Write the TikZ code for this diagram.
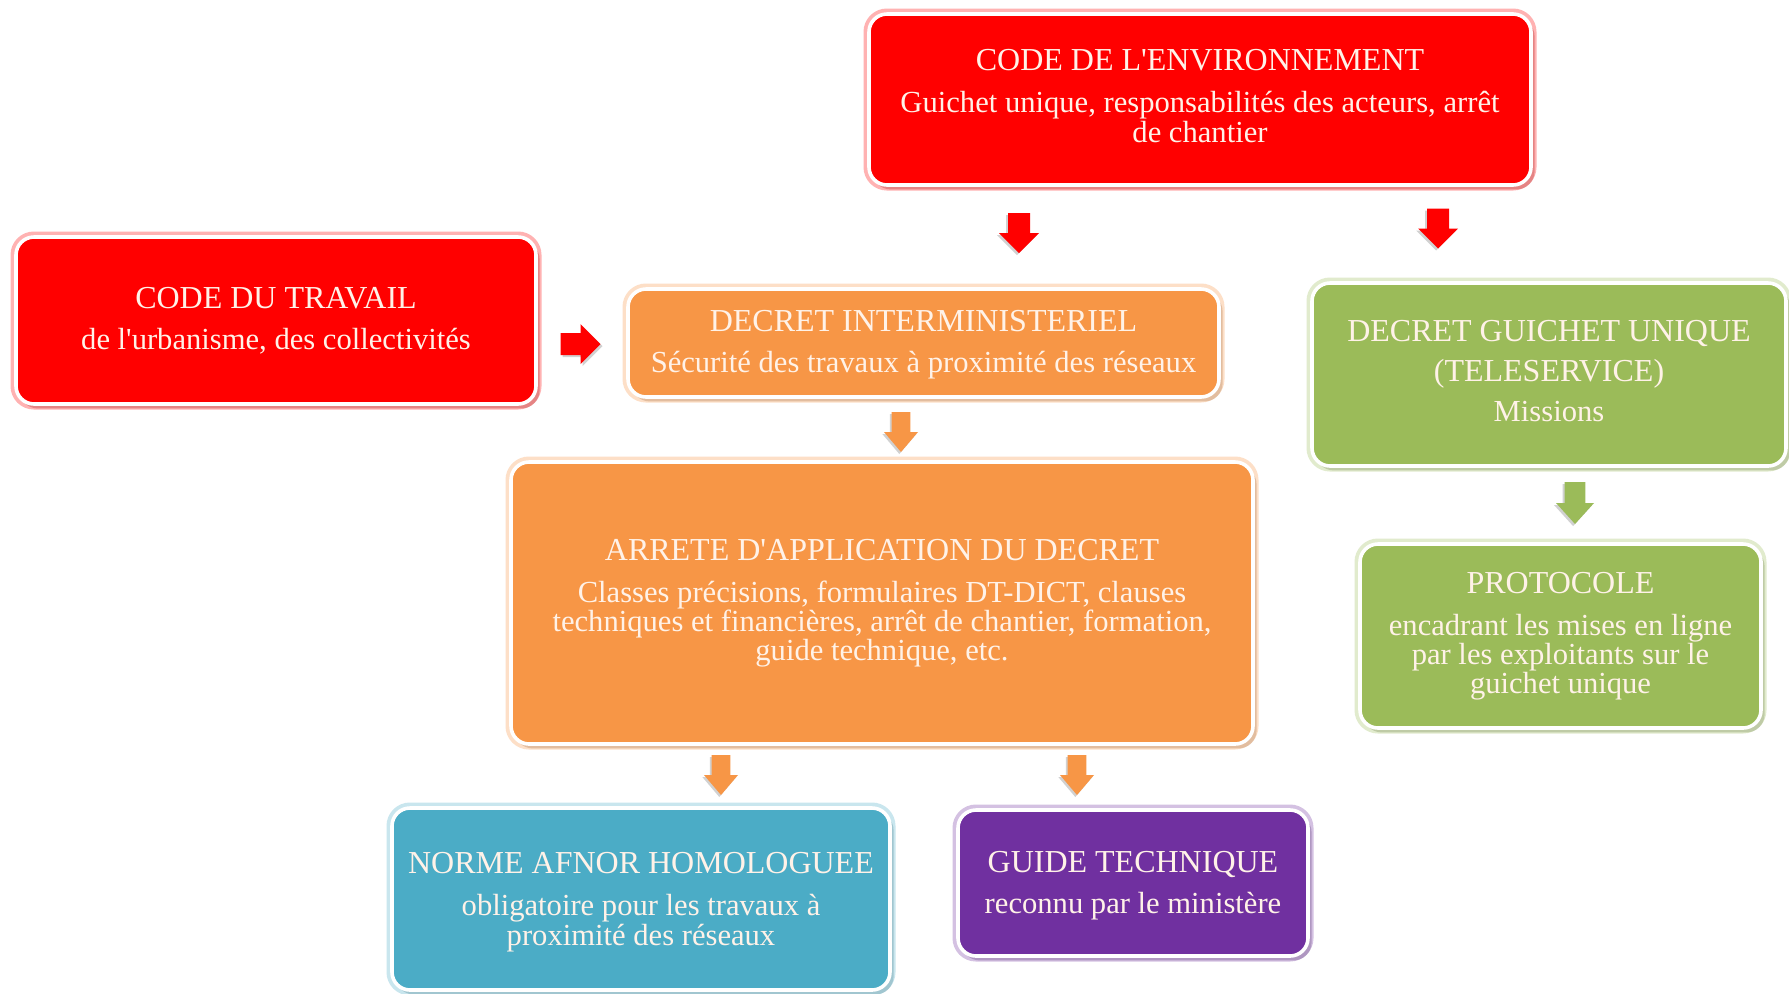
\documentclass[tikz,border=0pt]{standalone}
\usepackage{fontspec}
\setmainfont{Liberation Serif}
\usetikzlibrary{shadows}
\definecolor{cred}{HTML}{FF0000}
\definecolor{corange}{HTML}{F79646}
\definecolor{cgreen}{HTML}{9BBB59}
\definecolor{cblue}{HTML}{4BACC6}
\definecolor{cpurple}{HTML}{7030A0}
\definecolor{ctext}{HTML}{FFF2E8}
\newcommand{\ttl}[1]{{\fontsize{16}{14.5}\selectfont #1}}
\newcommand{\ap}{\textquotesingle}
\tikzset{
  box/.style={rectangle, rounded corners=9pt, fill=#1, draw=white, line width=1.8pt,
    text=ctext, align=center, inner sep=0pt,
    font=\fontsize{15.3}{14.6}\selectfont,
    preaction={draw=#1!30, line width=5.5pt},
    drop shadow={shadow xshift=1.8pt, shadow yshift=-2.2pt, opacity=0.4, fill=#1!50!gray}},
  boxtext/.style={text=ctext, align=center, font=\fontsize{15.3}{14.6}\selectfont},
  barrow/.pic={\fill[black, opacity=0.18] (-18,-9) -- (2,-9) -- (2,-18) -- (22,2) -- (2,22) -- (2,13) -- (-18,13) -- cycle;
               \fill[#1] (-20,-11) -- (0,-11) -- (0,-20) -- (20,0) -- (0,20) -- (0,11) -- (-20,11) -- cycle;},
}
\begin{document}
\begin{tikzpicture}[x=0.5pt, y=-0.5pt]
\fill[white] (0,0) rectangle (1789,993);
\useasboundingbox (0,0) rectangle (1789,993);

\node[box=cred, minimum width=331pt, minimum height=85.5pt] (env) at (1200,99.5) {};
\node[boxtext] (envt) at (1200,96)
  {\ttl{CODE DE L\ap ENVIRONNEMENT}\\[6.5pt]
   Guichet unique, responsabilités des acteurs, arrêt\\ de chantier};

\node[box=cred, minimum width=260pt, minimum height=83.5pt] (trav) at (276,320.5)
  {\ttl{CODE DU TRAVAIL}\\[6pt]
   de l\ap urbanisme, des collectivités};

\node[box=corange, minimum width=295.5pt, minimum height=54pt] (decr) at (923.5,343) {};
\node[boxtext] (decrt) at (923.5,345)
  {\ttl{DECRET INTERMINISTERIEL}\\[6pt]
   Sécurité des travaux à proximité des réseaux};

\node[box=cgreen, minimum width=237pt, minimum height=91.5pt] (guich) at (1549,374.5) {};
\node[boxtext] (guicht) at (1549,371)
  {\ttl{DECRET GUICHET UNIQUE}\\[5.5pt]
   \ttl{(TELESERVICE)}\\[5.5pt]
   Missions};

\node[box=cgreen, minimum width=200.5pt, minimum height=92pt] (proto) at (1560.5,636)
  {\ttl{PROTOCOLE}\\[6.5pt]
   encadrant les mises en ligne\\ par les exploitants sur le\\ guichet unique};

\node[box=corange, minimum width=371pt, minimum height=141pt] (arrete) at (882,603) {};
\node[boxtext] (arretet) at (882,603)
  {\ttl{ARRETE D\ap APPLICATION DU DECRET}\\[6.5pt]
   Classes précisions, formulaires DT-DICT, clauses\\
   techniques et financières, arrêt de chantier, formation,\\
   guide technique, etc.};

\node[box=cblue, minimum width=249pt, minimum height=91pt] (norme) at (641,899) {};
\node[boxtext] (normet) at (641,902)
  {\ttl{NORME AFNOR HOMOLOGUEE}\\[6.5pt]
   obligatoire pour les travaux à\\ proximité des réseaux};

\node[box=cpurple, minimum width=175pt, minimum height=73pt] (guide) at (1133,883) {};
\node[boxtext] (guidet) at (1133,886)
  {\ttl{GUIDE TECHNIQUE}\\[6pt]
   reconnu par le ministère};

% block arrows between the boxes
\pic[rotate=-90] (a1) at (1019,233) {barrow=cred};
\pic[rotate=-90] (a2) at (1438,228.5) {barrow=cred};
\pic (a3) at (580.5,344) {barrow=cred};
\pic[rotate=-90, yscale=0.85] (a4) at (901,432) {barrow=corange};
\pic[rotate=-90, yscale=0.85] (a5) at (721,775) {barrow=corange};
\pic[rotate=-90, yscale=0.85] (a6) at (1077,775) {barrow=corange};
\pic[rotate=-90, xscale=1.05, yscale=0.95] (a7) at (1575,503) {barrow=cgreen};
\end{tikzpicture}
\end{document}
